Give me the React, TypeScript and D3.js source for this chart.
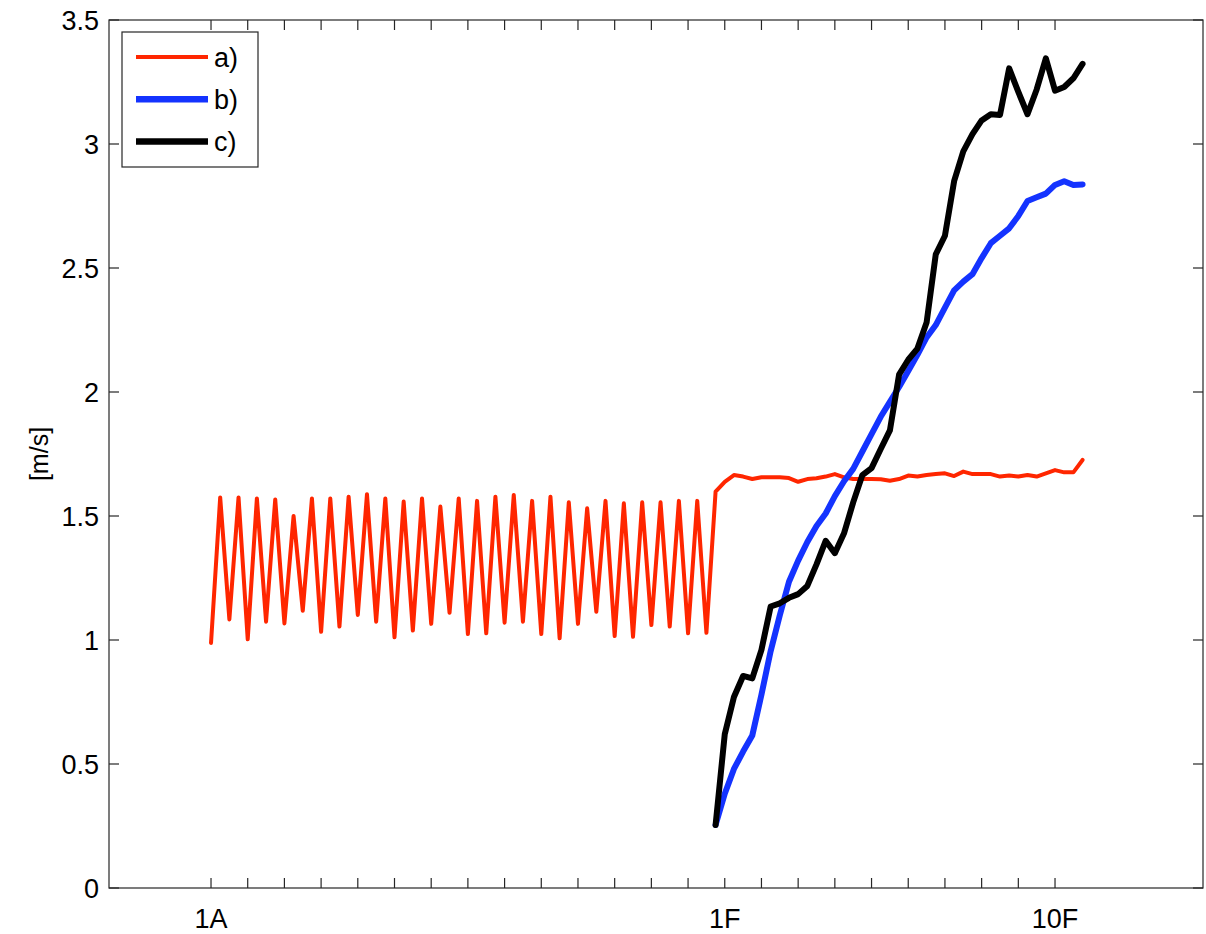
import React from 'react';
import * as d3 from 'd3';

// series a) sampled from index 0, series b) and c) start at index 55
const redValues = [
  0.988,
  1.575, 1.083, 1.575, 1.003, 1.571, 1.074, 1.567, 1.067, 1.5, 1.118,
  1.571, 1.033, 1.571, 1.054, 1.578, 1.101, 1.588, 1.074, 1.571, 1.011,
  1.558, 1.038, 1.571, 1.065, 1.538, 1.11, 1.571, 1.024, 1.561, 1.027,
  1.578, 1.07, 1.585, 1.074, 1.561, 1.024, 1.578, 1.007, 1.555, 1.065,
  1.531, 1.114, 1.561, 1.016, 1.551, 1.013, 1.555, 1.06, 1.555, 1.054,
  1.561, 1.027, 1.561, 1.029,
  1.598, 1.638, 1.665, 1.659, 1.649, 1.656, 1.656, 1.656, 1.653, 1.638,
  1.649, 1.652, 1.659, 1.669, 1.656, 1.649, 1.649, 1.649, 1.648, 1.642,
  1.649, 1.663, 1.659, 1.665, 1.669, 1.672, 1.661, 1.679, 1.669, 1.669,
  1.669, 1.659, 1.663, 1.659, 1.665, 1.659, 1.672, 1.685, 1.676, 1.676,
  1.726,
];
const curveStart = 55;
const blueValues = [
  0.254, 0.38, 0.48, 0.55, 0.615, 0.78, 0.955, 1.1, 1.235, 1.32,
  1.395, 1.46, 1.51, 1.58, 1.64, 1.69, 1.76, 1.83, 1.9, 1.96,
  2.02, 2.085, 2.15, 2.22, 2.27, 2.34, 2.41, 2.445, 2.475, 2.54,
  2.6, 2.63, 2.66, 2.71, 2.77, 2.785, 2.8, 2.835, 2.85, 2.835,
  2.837,
];
const blackValues = [
  0.254, 0.62, 0.77, 0.855, 0.845, 0.96, 1.135, 1.148, 1.17, 1.185,
  1.218, 1.305, 1.4, 1.35, 1.43, 1.555, 1.665, 1.693, 1.77, 1.845,
  2.07, 2.13, 2.175, 2.28, 2.555, 2.63, 2.85, 2.97, 3.04, 3.095,
  3.12, 3.117, 3.305, 3.21, 3.12, 3.22, 3.345, 3.215, 3.23, 3.265,
  3.323,
];

const xLabelPos = [0, 56, 92];
const xLabelText = ['1A', '1F', '10F'];
const xTickStep = 4;
const xTickLast = 92;
const yTicks = [0, 0.5, 1, 1.5, 2, 2.5, 3, 3.5];
const legendNames = ['a)', 'b)', 'c)'];

const W = 1206;
const H = 934;
const left = 109;
const right = 1203;
const top = 20;
const bottom = 888;
const axisColor = '#262626';
const font = '"Liberation Sans", Arial, Helvetica, sans-serif';

const colors = ['#ff2600', '#1433ff', '#000000'];
const widths = [4, 6, 6];

const App = () => {
  const x = d3.scaleLinear().domain([-11.12, 108.13]).range([left, right]);
  const y = d3.scaleLinear().domain([0, 3.5]).range([bottom, top]);

  const line = d3
    .line<[number, number]>()
    .x((d) => x(d[0]))
    .y((d) => y(d[1]));

  const series = [
    redValues.map((v, i) => [i, v] as [number, number]),
    blueValues.map((v, i) => [i + curveStart, v] as [number, number]),
    blackValues.map((v, i) => [i + curveStart, v] as [number, number]),
  ];

  const xTicks = d3.range(0, xTickLast + 1, xTickStep);
  const tickLen = 10;

  return (
    <svg width={W} height={H} style={{ position: 'absolute', left: 0, top: 0, background: '#fff' }}>
      <rect x={0} y={0} width={W} height={H} fill="#fff" />
      {series.map((s, i) => (
        <path
          key={i}
          d={line(s) || ''}
          fill="none"
          stroke={colors[i]}
          strokeWidth={widths[i]}
          strokeLinejoin="round"
          strokeLinecap="round"
        />
      ))}

      <rect x={left} y={top} width={right - left} height={bottom - top} fill="none" stroke={axisColor} strokeWidth={1.2} />

      {xTicks.map((t) => (
        <g key={'xt' + t} stroke={axisColor} strokeWidth={1.2}>
          <line x1={x(t)} x2={x(t)} y1={bottom} y2={bottom - tickLen} />
          <line x1={x(t)} x2={x(t)} y1={top} y2={top + tickLen} />
        </g>
      ))}
      {yTicks.map((t) => (
        <g key={'yt' + t} stroke={axisColor} strokeWidth={1.2}>
          <line x1={left} x2={left + tickLen} y1={y(t)} y2={y(t)} />
          <line x1={right} x2={right - tickLen} y1={y(t)} y2={y(t)} />
        </g>
      ))}

      {yTicks.map((t) => (
        <text
          key={'yl' + t}
          x={left - 10}
          y={y(t)}
          dy="0.36em"
          textAnchor="end"
          fontFamily={font}
          fontSize={27}
          fill="#000"
        >
          {String(t)}
        </text>
      ))}
      {xLabelPos.map((p, i) => (
        <text
          key={'xl' + i}
          x={x(p)}
          y={bottom + 40}
          textAnchor="middle"
          fontFamily={font}
          fontSize={27}
          fill="#000"
        >
          {xLabelText[i]}
        </text>
      ))}

      <text
        transform={`translate(48, ${(top + bottom) / 2}) rotate(-90)`}
        textAnchor="middle"
        fontFamily={font}
        fontSize={25}
        fill="#000"
      >
        [m/s]
      </text>

      <g>
        <rect x={122} y={32} width={136} height={135} fill="#fff" stroke={axisColor} strokeWidth={1.2} />
        {legendNames.map((n, i) => (
          <g key={n}>
            <line x1={136} x2={208} y1={57 + i * 42.3} y2={57 + i * 42.3} stroke={colors[i]} strokeWidth={i === 0 ? 4 : 6.5} />
            <text x={214} y={57 + i * 42.3} dy="0.36em" fontFamily={font} fontSize={27} fill="#000">
              {n}
            </text>
          </g>
        ))}
      </g>
    </svg>
  );
};

export default App;
